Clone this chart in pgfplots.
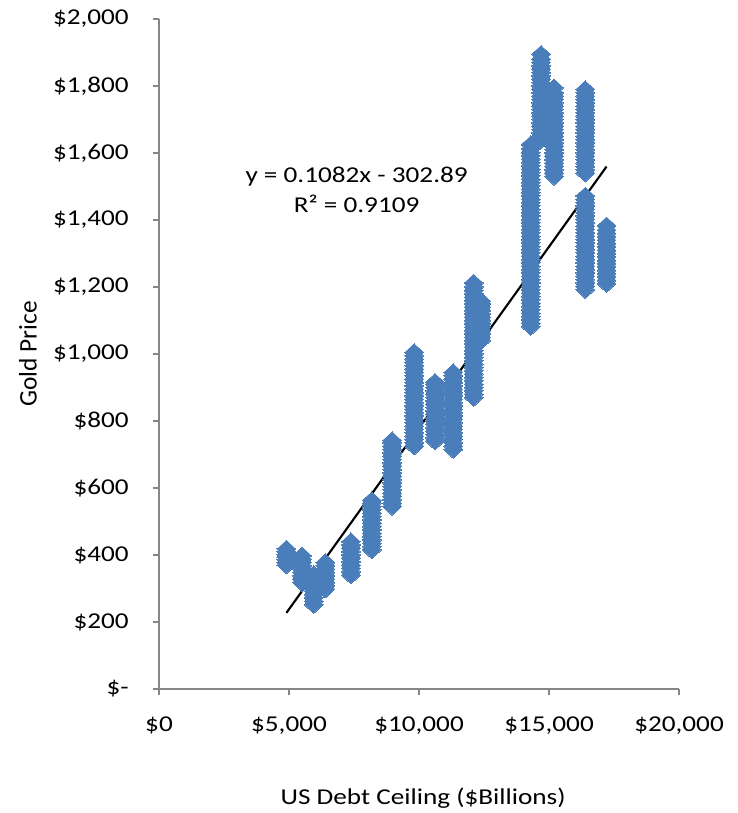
\documentclass[border=0pt]{standalone}
\usepackage{pgfplots}
\pgfplotsset{compat=1.18}
\usepackage{fontspec}
\setmainfont[FakeStretch=1.2]{Carlito}
\newfontfamily\plainfont{Carlito}
\definecolor{mk}{HTML}{4A7EBB}
\definecolor{ax}{HTML}{868686}
\begin{document}
\begin{tikzpicture}
\useasboundingbox (-119.25pt,-93pt) rectangle (434.25pt,516.75pt);
\begin{axis}[
  at={(0,0)}, anchor=south west,
  scale only axis, width=390pt, height=502.5pt,
  xmin=0, xmax=20000, ymin=0, ymax=2000,
  scaled x ticks=false, scaled y ticks=false,
  axis x line=bottom, axis y line=left,
  axis line style={-, ax, line width=0.9pt},
  tick style={ax, line width=0.9pt},
  tick align=outside, major tick length=4.5pt,
  xtick={0,5000,10000,15000,20000},
  xticklabels={\$0,\$5{,}000,\$10{,}000,\$15{,}000,\$20{,}000},
  ytick={0,200,400,600,800,1000,1200,1400,1600,1800,2000},
  yticklabels={\$-,\$200,\$400,\$600,\$800,\$1{,}000,\$1{,}200,\$1{,}400,\$1{,}600,\$1{,}800,\$2{,}000},
  tick label style={font=\fontsize{17}{20}\selectfont},
  yticklabel style={anchor=east, inner sep=0pt, xshift=-18pt},
  xticklabel style={anchor=north, inner sep=0pt, yshift=-16pt},
  xlabel={US Debt Ceiling (\$Billions)},
  ylabel={Gold Price},
  x label style={font=\fontsize{17}{20}\selectfont, at={(axis description cs:0.508,-0.1627)}, anchor=center},
  y label style={font=\plainfont\fontsize{19}{22}\selectfont, at={(axis description cs:-0.2519,0.5)}, anchor=center, rotate=0},
  clip=false,
]
\addplot[only marks, color=mk, mark=diamond*, mark size=6.5pt, mark options={solid, fill=mk, draw=mk, line width=0pt, xscale=1.45}] coordinates {
(4900,370) (4900,378) (4900,386) (4900,394) (4900,402) (4900,410) (4900,418)
(5500,318) (5500,328) (5500,338) (5500,348) (5500,358) (5500,368) (5500,378) (5500,388) (5500,398)
(5950,252) (5950,262) (5950,272) (5950,282) (5950,292) (5950,302) (5950,312) (5950,322) (5950,332) (5950,342)
(6400,298) (6400,308) (6400,318) (6400,328) (6400,338) (6400,348) (6400,358) (6400,368) (6400,378)
(7384,340) (7384,350) (7384,360) (7384,370) (7384,380) (7384,390) (7384,400) (7384,410) (7384,420) (7384,430) (7384,440)
(8184,415) (8184,425) (8184,435) (8184,445) (8184,455) (8184,465) (8184,475) (8184,485) (8184,495) (8184,505) (8184,515) (8184,525) (8184,535) (8184,545) (8184,555) (8184,563)
(8965,545) (8965,555) (8965,565) (8965,575) (8965,585) (8965,595) (8965,605) (8965,615) (8965,625) (8965,635) (8965,645) (8965,655) (8965,665) (8965,675) (8965,685) (8965,695) (8965,705) (8965,715) (8965,725) (8965,735) (8965,742)
(9815,725) (9815,735) (9815,745) (9815,755) (9815,765) (9815,775) (9815,785) (9815,795) (9815,805) (9815,815) (9815,825) (9815,835) (9815,845) (9815,855) (9815,865) (9815,875) (9815,885) (9815,895) (9815,905) (9815,915) (9815,925) (9815,935) (9815,945) (9815,955) (9815,965) (9815,975) (9815,985) (9815,995) (9815,1005)
(10615,740) (10615,750) (10615,760) (10615,770) (10615,780) (10615,790) (10615,800) (10615,810) (10615,820) (10615,830) (10615,840) (10615,850) (10615,860) (10615,870) (10615,880) (10615,890) (10615,900) (10615,910) (10615,916)
(11315,715) (11315,725) (11315,735) (11315,745) (11315,755) (11315,765) (11315,775) (11315,785) (11315,795) (11315,805) (11315,815) (11315,825) (11315,835) (11315,845) (11315,855) (11315,865) (11315,875) (11315,885) (11315,895) (11315,905) (11315,915) (11315,925) (11315,935) (11315,945)
(12104,870) (12104,880) (12104,890) (12104,900) (12104,910) (12104,920) (12104,930) (12104,940) (12104,950) (12104,960) (12104,970) (12104,980) (12104,990) (12104,1000) (12104,1010) (12104,1020) (12104,1030) (12104,1040) (12104,1050) (12104,1060) (12104,1070) (12104,1080) (12104,1090) (12104,1100) (12104,1110) (12104,1120) (12104,1130) (12104,1140) (12104,1150) (12104,1160) (12104,1170) (12104,1180) (12104,1190) (12104,1200) (12104,1212)
(12394,1040) (12394,1050) (12394,1060) (12394,1070) (12394,1080) (12394,1090) (12394,1100) (12394,1110) (12394,1120) (12394,1130) (12394,1140) (12394,1150) (12394,1158)
(14294,1082) (14294,1092) (14294,1102) (14294,1112) (14294,1122) (14294,1132) (14294,1142) (14294,1152) (14294,1162) (14294,1172) (14294,1182) (14294,1192) (14294,1202) (14294,1212) (14294,1222) (14294,1232) (14294,1242) (14294,1252) (14294,1262) (14294,1272) (14294,1282) (14294,1292) (14294,1302) (14294,1312) (14294,1322) (14294,1332) (14294,1342) (14294,1352) (14294,1362) (14294,1372) (14294,1382) (14294,1392) (14294,1402) (14294,1412) (14294,1422) (14294,1432) (14294,1442) (14294,1452) (14294,1462) (14294,1472) (14294,1482) (14294,1492) (14294,1502) (14294,1512) (14294,1522) (14294,1532) (14294,1542) (14294,1552) (14294,1562) (14294,1572) (14294,1582) (14294,1592) (14294,1602) (14294,1612) (14294,1625)
(14694,1640) (14694,1650) (14694,1660) (14694,1670) (14694,1680) (14694,1690) (14694,1700) (14694,1710) (14694,1720) (14694,1730) (14694,1740) (14694,1750) (14694,1760) (14694,1770) (14694,1780) (14694,1790) (14694,1800) (14694,1810) (14694,1820) (14694,1830) (14694,1840) (14694,1850) (14694,1860) (14694,1870) (14694,1880) (14694,1895)
(15194,1530) (15194,1540) (15194,1550) (15194,1560) (15194,1570) (15194,1580) (15194,1590) (15194,1600) (15194,1610) (15194,1620) (15194,1630) (15194,1640) (15194,1650) (15194,1660) (15194,1670) (15194,1680) (15194,1690) (15194,1700) (15194,1710) (15194,1720) (15194,1730) (15194,1740) (15194,1750) (15194,1760) (15194,1770) (15194,1780) (15194,1795)
(16394,1540) (16394,1550) (16394,1560) (16394,1570) (16394,1580) (16394,1590) (16394,1600) (16394,1610) (16394,1620) (16394,1630) (16394,1640) (16394,1650) (16394,1660) (16394,1670) (16394,1680) (16394,1690) (16394,1700) (16394,1710) (16394,1720) (16394,1730) (16394,1740) (16394,1750) (16394,1760) (16394,1770) (16394,1780) (16394,1790)
(16394,1192) (16394,1202) (16394,1212) (16394,1222) (16394,1232) (16394,1242) (16394,1252) (16394,1262) (16394,1272) (16394,1282) (16394,1292) (16394,1302) (16394,1312) (16394,1322) (16394,1332) (16394,1342) (16394,1352) (16394,1362) (16394,1372) (16394,1382) (16394,1392) (16394,1402) (16394,1412) (16394,1422) (16394,1432) (16394,1442) (16394,1452) (16394,1462) (16394,1472)
(17212,1210) (17212,1220) (17212,1230) (17212,1240) (17212,1250) (17212,1260) (17212,1270) (17212,1280) (17212,1290) (17212,1300) (17212,1310) (17212,1320) (17212,1330) (17212,1340) (17212,1350) (17212,1360) (17212,1370) (17212,1383)
};
\addplot[black, line width=1.6pt, no marks] coordinates {(4900,227.29) (17212,1559.45)};
\node[align=center, font=\fontsize{17}{23}\selectfont, inner sep=0pt] at (axis cs:7600,1490) {y = 0.1082x - 302.89\\R² = 0.9109};
\end{axis}
\end{tikzpicture}
\end{document}
